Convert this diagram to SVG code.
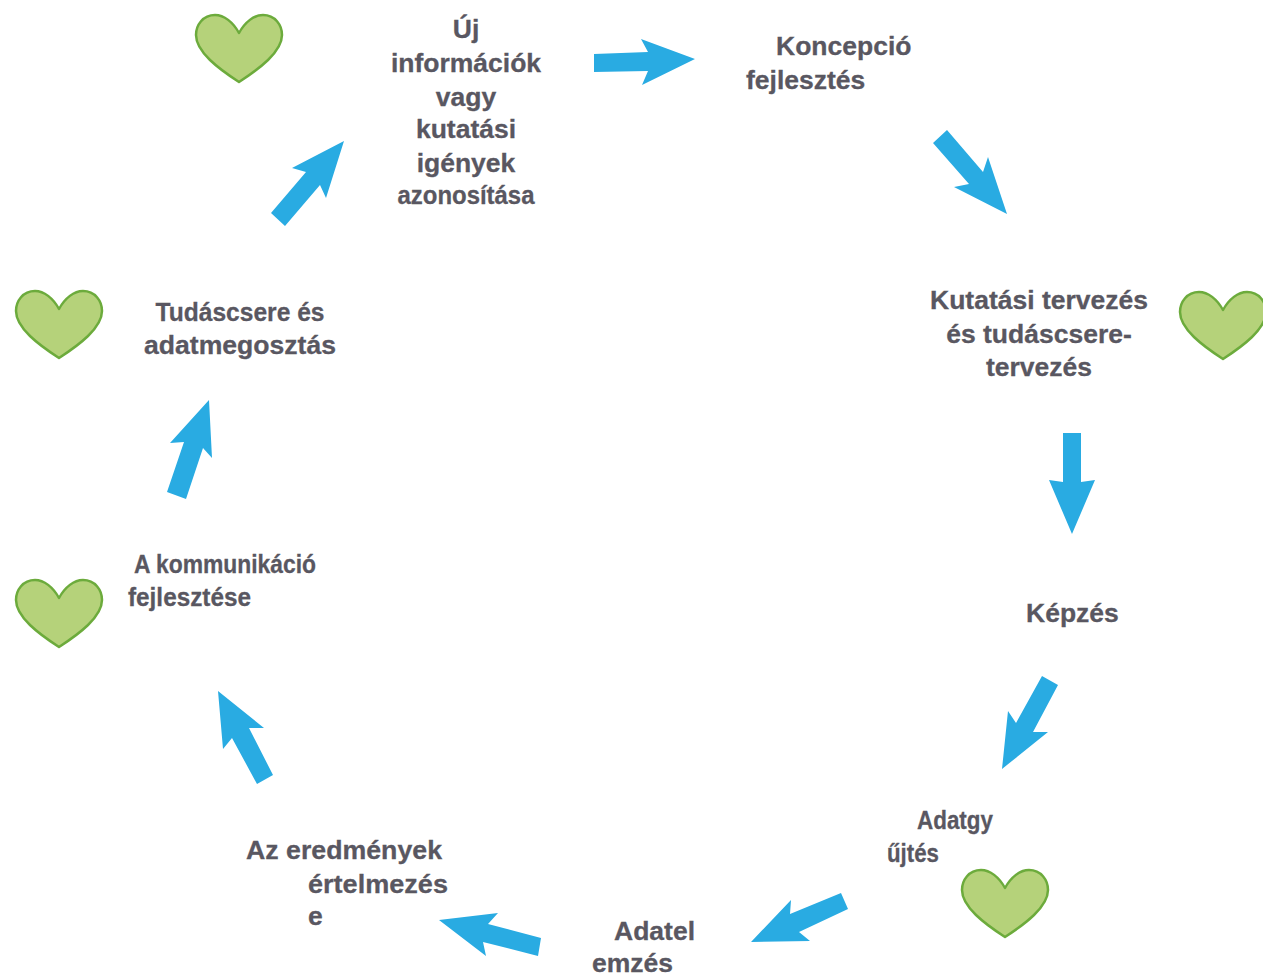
<svg xmlns="http://www.w3.org/2000/svg" width="1263" height="975" viewBox="0 0 1263 975">
<style>
.t{font-family:"Liberation Sans",Arial,sans-serif;font-weight:bold;font-size:26.5px;fill:#595761;stroke:#595761;stroke-width:.3}
.m{text-anchor:middle}
.h{fill:#b5d27a;stroke:#6cab3c;stroke-width:2.5;stroke-linejoin:round}
.a{fill:#29abe2}
</style>
<defs>
<path id="heart" class="h" d="M0,0 C-6,-11 -15,-18 -24,-18 C-36,-18 -43,-8 -43,2 C-43,19 -20,36 0,49 C20,36 43,19 43,2 C43,-8 36,-18 24,-18 C15,-18 6,-11 0,0Z"/>
</defs>
<rect width="1263" height="975" fill="#fff"/>
<g id="connectors">
<polygon class="a" points="594,54 648,52 641,39 695,59 642,85 648,71 594,72"/>
<polygon class="a" points="947,130 983,172 988,157 1007,214 954,187 969,184 933,143"/>
<polygon class="a" points="1063,433 1081,433 1081,482 1095,480 1072,534 1049,480 1063,482"/>
<polygon class="a" points="1042,676 1058,685 1033,732 1048,732 1002,769 1008,711 1016,723"/>
<polygon class="a" points="841,893 848,909 799,932 810,941 751,942 791,900 790,914"/>
<polygon class="a" points="541,938 538,956 483,942 486,956 439,920 498,913 488,924"/>
<polygon class="a" points="273,775 257,784 232,738 223,749 218,691 264,728 249,728"/>
<polygon class="a" points="186,499 167,492 184,442 170,443 209,400 212,458 203,448"/>
<polygon class="a" points="285,226 271,213 306,172 292,168 344,141 326,198 320,185"/>
</g>
<g id="heart-1"><use href="#heart" x="239" y="33"/></g>
<g id="heart-2"><use href="#heart" x="59" y="309"/></g>
<g id="heart-3"><use href="#heart" x="59" y="598"/></g>
<g id="heart-4"><use href="#heart" x="1005" y="888"/></g>
<g id="heart-5"><use href="#heart" x="1223" y="310"/></g>
<g id="node-uj"><text class="t m" x="466" y="38">Új</text><text class="t m" x="466" y="72">információk</text><text class="t m" x="466" y="106">vagy</text><text class="t m" x="466" y="138">kutatási</text><text class="t m" x="466" y="172">igények</text><text class="t m" x="466" y="204" textLength="137" lengthAdjust="spacingAndGlyphs">azonosítása</text></g>
<g id="node-koncepcio"><text class="t" x="776" y="55">Koncepció</text><text class="t" x="746" y="89">fejlesztés</text></g>
<g id="node-kutatasi"><text class="t m" x="1039" y="309">Kutatási tervezés</text><text class="t m" x="1039" y="343">és tudáscsere-</text><text class="t m" x="1039" y="375.500">tervezés</text></g>
<g id="node-kepzes"><text class="t" x="1026" y="621.500">Képzés</text></g>
<g id="node-adatgyujtes"><text class="t" x="917" y="828.500" textLength="76" lengthAdjust="spacingAndGlyphs">Adatgy</text><text class="t" x="887" y="862" textLength="52" lengthAdjust="spacingAndGlyphs">űjtés</text></g>
<g id="node-adatelemzes"><text class="t" x="614" y="939.500">Adatel</text><text class="t" x="592" y="972">emzés</text></g>
<g id="node-eredmenyek"><text class="t" x="246" y="859" textLength="196" lengthAdjust="spacingAndGlyphs">Az eredmények</text><text class="t" x="308" y="893" textLength="140" lengthAdjust="spacingAndGlyphs">értelmezés</text><text class="t" x="308" y="925">e</text></g>
<g id="node-kommunikacio"><text class="t" x="134" y="572.500" textLength="182" lengthAdjust="spacingAndGlyphs">A kommunikáció</text><text class="t" x="128" y="606" textLength="123" lengthAdjust="spacingAndGlyphs">fejlesztése</text></g>
<g id="node-tudascsere"><text class="t m" x="240" y="321" textLength="169" lengthAdjust="spacingAndGlyphs">Tudáscsere és</text><text class="t m" x="240" y="354" textLength="192" lengthAdjust="spacingAndGlyphs">adatmegosztás</text></g>
</svg>
